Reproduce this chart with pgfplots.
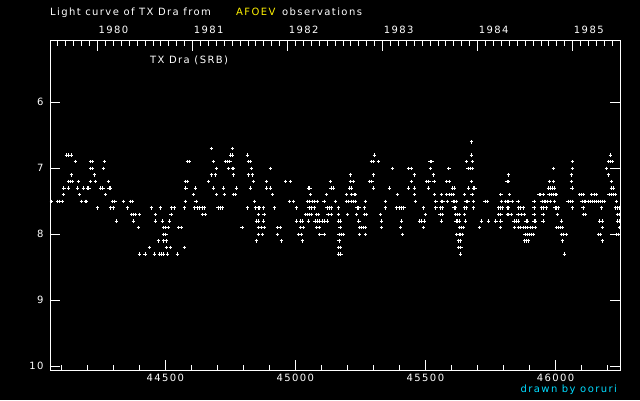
\documentclass[border=0pt]{standalone}
\usepackage{fontspec}
\setmainfont{DejaVu Sans}[LetterSpace=14]
\usepackage{pgfplots}
\pgfplotsset{compat=1.18}
\definecolor{signcyan}{RGB}{0,220,255}
\begin{document}
\begin{tikzpicture}
\fill[black] (-50pt,-29.7pt) rectangle (590pt,370.3pt);
\useasboundingbox (-50pt,-29.7pt) rectangle (590pt,370.3pt);
\pgfplotsset{
  lcframe/.style={
    at={(0pt,0pt)}, anchor=south west,
    scale only axis, width=570pt, height=329.6pt,
    xmin=44056.8, xmax=46248,
    axis line style={white, line width=0.9pt},
    every tick/.style={white, line width=0.9pt},
    major tick length=10pt, minor tick length=5pt,
    tick align=inside,
    ticklabel style={white},
    scaled x ticks=false,
    /pgf/number format/assume math mode=true,
    /pgf/number format/1000 sep={},
  },
  lcmark/.style={only marks, mark=+, mark size=1.7pt, white, line width=0.9pt},
}
% main axis: JD along the bottom, magnitude on the left
\begin{axis}[lcframe,
  ymin=5.067, ymax=10.06, y dir=reverse,
  xtick={44500,45000,45500,46000},
  minor xtick={44100,44200,...,46200},
  xtick pos=left, ytick pos=both, yticklabel pos=left,
  ytick={6,7,8,9,10},
  yticklabel style={xshift=-3pt},
]
\addplot[lcmark] coordinates {(45677,6.6)};
\addplot[lcmark] coordinates {(44677,6.7) (44758,6.7)};
\addplot[lcmark] coordinates {(44120,6.8) (44129,6.8) (44139,6.8) (44752,6.8) (44757,6.8) (44815,6.8) (45304,6.8) (45677,6.8) (46211,6.8)};
\addplot[lcmark] coordinates {(44154,6.9) (44213,6.9) (44220,6.9) (44266,6.9) (44585,6.9) (44594,6.9) (44685,6.9) (44731,6.9) (44739,6.9) (44748,6.9) (44819,6.9) (44827,6.9) (45292,6.9) (45301,6.9) (45319,6.9) (45518,6.9) (45525,6.9) (45657,6.9) (45680,6.9) (46065,6.9) (46205,6.9) (46212,6.9) (46219,6.9)};
\addplot[lcmark] coordinates {(44213,7.0) (44221,7.0) (44262,7.0) (44696,7.0) (44742,7.0) (44758,7.0) (44763,7.0) (44831,7.0) (44904,7.0) (45373,7.0) (45434,7.0) (45446,7.0) (45519,7.0) (45590,7.0) (45664,7.0) (45673,7.0) (45679,7.0) (45992,7.0) (46065,7.0) (46195,7.0)};
\addplot[lcmark] coordinates {(44139,7.1) (44227,7.1) (44677,7.1) (44692,7.1) (44762,7.1) (44819,7.1) (44835,7.1) (45211,7.1) (45300,7.1) (45457,7.1) (45530,7.1) (45819,7.1) (46061,7.1) (46203,7.1)};
\addplot[lcmark] coordinates {(44129,7.2) (44137,7.2) (44144,7.2) (44166,7.2) (44212,7.2) (44231,7.2) (44281,7.2) (44577,7.2) (44585,7.2) (44666,7.2) (44838,7.2) (44888,7.2) (44963,7.2) (44981,7.2) (45134,7.2) (45211,7.2) (45224,7.2) (45284,7.2) (45294,7.2) (45446,7.2) (45505,7.2) (45513,7.2) (45533,7.2) (45582,7.2) (45591,7.2) (45677,7.2) (45814,7.2) (45818,7.2) (45976,7.2) (45993,7.2) (46061,7.2) (46215,7.2)};
\addplot[lcmark] coordinates {(44110,7.3) (44127,7.3) (44163,7.3) (44185,7.3) (44200,7.3) (44206,7.3) (44252,7.3) (44260,7.3) (44284,7.3) (44290,7.3) (44579,7.3) (44616,7.3) (44685,7.3) (44723,7.3) (44773,7.3) (44827,7.3) (44890,7.3) (44904,7.3) (45050,7.3) (45056,7.3) (45137,7.3) (45145,7.3) (45209,7.3) (45215,7.3) (45300,7.3) (45361,7.3) (45434,7.3) (45457,7.3) (45511,7.3) (45603,7.3) (45611,7.3) (45666,7.3) (45684,7.3) (45690,7.3) (45972,7.3) (45980,7.3) (45988,7.3) (45996,7.3) (46064,7.3) (46216,7.3) (46224,7.3)};
\addplot[lcmark] coordinates {(44108,7.4) (44170,7.4) (44270,7.4) (44608,7.4) (44698,7.4) (44727,7.4) (44762,7.4) (44771,7.4) (44913,7.4) (45059,7.4) (45119,7.4) (45196,7.4) (45215,7.4) (45226,7.4) (45232,7.4) (45392,7.4) (45459,7.4) (45536,7.4) (45561,7.4) (45580,7.4) (45593,7.4) (45601,7.4) (45609,7.4) (45651,7.4) (45679,7.4) (45790,7.4) (45824,7.4) (45937,7.4) (45944,7.4) (45952,7.4) (45975,7.4) (45983,7.4) (45991,7.4) (45998,7.4) (46005,7.4) (46093,7.4) (46101,7.4) (46107,7.4) (46140,7.4) (46148,7.4) (46157,7.4) (46206,7.4) (46214,7.4) (46221,7.4) (46229,7.4)};
\addplot[lcmark] coordinates {(44062,7.5) (44085,7.5) (44094,7.5) (44103,7.5) (44177,7.5) (44193,7.5) (44198,7.5) (44297,7.5) (44306,7.5) (44339,7.5) (44366,7.5) (44375,7.5) (44577,7.5) (44618,7.5) (44844,7.5) (44977,7.5) (44992,7.5) (45046,7.5) (45055,7.5) (45064,7.5) (45073,7.5) (45084,7.5) (45110,7.5) (45154,7.5) (45196,7.5) (45205,7.5) (45214,7.5) (45223,7.5) (45232,7.5) (45269,7.5) (45346,7.5) (45461,7.5) (45540,7.5) (45561,7.5) (45567,7.5) (45584,7.5) (45606,7.5) (45613,7.5) (45618,7.5) (45656,7.5) (45663,7.5) (45684,7.5) (45729,7.5) (45738,7.5) (45792,7.5) (45809,7.5) (45815,7.5) (45821,7.5) (45834,7.5) (45856,7.5) (45918,7.5) (45948,7.5) (45956,7.5) (45962,7.5) (45971,7.5) (45979,7.5) (45996,7.5) (46048,7.5) (46057,7.5) (46064,7.5) (46102,7.5) (46110,7.5) (46116,7.5) (46125,7.5) (46133,7.5) (46142,7.5) (46149,7.5) (46157,7.5) (46165,7.5) (46172,7.5) (46180,7.5) (46188,7.5) (46234,7.5)};
\addplot[lcmark] coordinates {(44239,7.6) (44290,7.6) (44299,7.6) (44354,7.6) (44446,7.6) (44481,7.6) (44525,7.6) (44536,7.6) (44573,7.6) (44613,7.6) (44623,7.6) (44632,7.6) (44641,7.6) (44650,7.6) (44703,7.6) (44712,7.6) (44719,7.6) (44815,7.6) (44846,7.6) (44857,7.6) (44863,7.6) (44877,7.6) (44919,7.6) (45004,7.6) (45053,7.6) (45061,7.6) (45072,7.6) (45122,7.6) (45131,7.6) (45138,7.6) (45165,7.6) (45237,7.6) (45244,7.6) (45265,7.6) (45346,7.6) (45388,7.6) (45401,7.6) (45409,7.6) (45417,7.6) (45492,7.6) (45540,7.6) (45557,7.6) (45565,7.6) (45610,7.6) (45615,7.6) (45651,7.6) (45659,7.6) (45684,7.6) (45782,7.6) (45790,7.6) (45797,7.6) (45815,7.6) (45820,7.6) (45859,7.6) (45866,7.6) (45875,7.6) (45918,7.6) (45946,7.6) (45955,7.6) (45965,7.6) (45998,7.6) (46003,7.6) (46010,7.6) (46065,7.6) (46106,7.6) (46178,7.6) (46230,7.6) (46239,7.6) (46245,7.6)};
\addplot[lcmark] coordinates {(44371,7.7) (44379,7.7) (44385,7.7) (44400,7.7) (44462,7.7) (44522,7.7) (44644,7.7) (44653,7.7) (44858,7.7) (44880,7.7) (45038,7.7) (45046,7.7) (45055,7.7) (45063,7.7) (45081,7.7) (45088,7.7) (45126,7.7) (45138,7.7) (45165,7.7) (45201,7.7) (45236,7.7) (45267,7.7) (45272,7.7) (45327,7.7) (45500,7.7) (45556,7.7) (45564,7.7) (45617,7.7) (45623,7.7) (45629,7.7) (45651,7.7) (45782,7.7) (45790,7.7) (45815,7.7) (45821,7.7) (45830,7.7) (45856,7.7) (45869,7.7) (45882,7.7) (45918,7.7) (45952,7.7) (46007,7.7) (46107,7.7) (46116,7.7) (46238,7.7) (46246,7.7)};
\addplot[lcmark] coordinates {(44312,7.8) (44377,7.8) (44462,7.8) (44489,7.8) (44517,7.8) (44850,7.8) (44859,7.8) (44877,7.8) (45004,7.8) (45019,7.8) (45028,7.8) (45050,7.8) (45076,7.8) (45084,7.8) (45094,7.8) (45103,7.8) (45110,7.8) (45123,7.8) (45165,7.8) (45173,7.8) (45244,7.8) (45331,7.8) (45409,7.8) (45477,7.8) (45486,7.8) (45495,7.8) (45561,7.8) (45618,7.8) (45625,7.8) (45632,7.8) (45653,7.8) (45715,7.8) (45743,7.8) (45771,7.8) (45790,7.8) (45841,7.8) (45849,7.8) (45856,7.8) (45887,7.8) (45893,7.8) (45918,7.8) (45923,7.8) (45952,7.8) (46022,7.8) (46170,7.8) (46179,7.8) (46239,7.8) (46246,7.8)};
\addplot[lcmark] coordinates {(44396,7.9) (44493,7.9) (44500,7.9) (44511,7.9) (44552,7.9) (44561,7.9) (44795,7.9) (44858,7.9) (44869,7.9) (44880,7.9) (44931,7.9) (44942,7.9) (45019,7.9) (45031,7.9) (45082,7.9) (45092,7.9) (45172,7.9) (45248,7.9) (45255,7.9) (45263,7.9) (45269,7.9) (45331,7.9) (45405,7.9) (45492,7.9) (45632,7.9) (45638,7.9) (45645,7.9) (45707,7.9) (45788,7.9) (45842,7.9) (45857,7.9) (45866,7.9) (45875,7.9) (45886,7.9) (45893,7.9) (45903,7.9) (45911,7.9) (45924,7.9) (46003,7.9) (46012,7.9) (46020,7.9) (46028,7.9) (46180,7.9) (46246,7.9)};
\addplot[lcmark] coordinates {(44493,8.0) (44502,8.0) (44858,8.0) (44873,8.0) (44931,8.0) (45012,8.0) (45023,8.0) (45094,8.0) (45110,8.0) (45168,8.0) (45177,8.0) (45186,8.0) (45246,8.0) (45269,8.0) (45411,8.0) (45621,8.0) (45629,8.0) (45636,8.0) (45642,8.0) (45883,8.0) (45891,8.0) (45898,8.0) (45909,8.0) (45916,8.0) (46022,8.0) (46029,8.0) (46042,8.0) (46167,8.0) (46172,8.0) (46235,8.0) (46243,8.0)};
\addplot[lcmark] coordinates {(44473,8.1) (44494,8.1) (44503,8.1) (44850,8.1) (44946,8.1) (45027,8.1) (45168,8.1) (45627,8.1) (45634,8.1) (45882,8.1) (45889,8.1) (45897,8.1) (46026,8.1) (46180,8.1)};
\addplot[lcmark] coordinates {(44439,8.2) (44504,8.2) (44519,8.2) (44573,8.2) (45167,8.2) (45173,8.2) (45628,8.2) (45636,8.2)};
\addplot[lcmark] coordinates {(44400,8.3) (44422,8.3) (44458,8.3) (44477,8.3) (44486,8.3) (44494,8.3) (44508,8.3) (44546,8.3) (45165,8.3) (45175,8.3) (45634,8.3) (46034,8.3)};
\end{axis}
% top axis: calendar years, monthly minor ticks
\begin{axis}[lcframe,
  ymin=0, ymax=1, hide y axis,
  xtick pos=right, xticklabel pos=right,
  xtick={44239.5,44605.5,44970.5,45335.5,45700.5,46066.5},
  xticklabels={1980,1981,1982,1983,1984,1985},
  minor xtick={44087.3,44117.74,...,46248},
  xticklabel style={anchor=base west, inner sep=0pt, yshift=7.7pt, xshift=1pt},
]
\end{axis}
\node[anchor=base west, inner sep=0pt, white] at (0pt,354.3pt) {Light curve of TX Dra from};
\node[anchor=base west, inner sep=0pt, yellow] at (186pt,354.3pt) {AFOEV};
\node[anchor=base west, inner sep=0pt, white] at (232pt,354.3pt) {observations};
\node[anchor=base west, inner sep=0pt, white] at (100pt,307.3pt) {TX Dra (SRB)};
\node[anchor=base east, inner sep=0pt, signcyan] at (567pt,-21.7pt) {drawn by ooruri};
\end{tikzpicture}
\end{document}
